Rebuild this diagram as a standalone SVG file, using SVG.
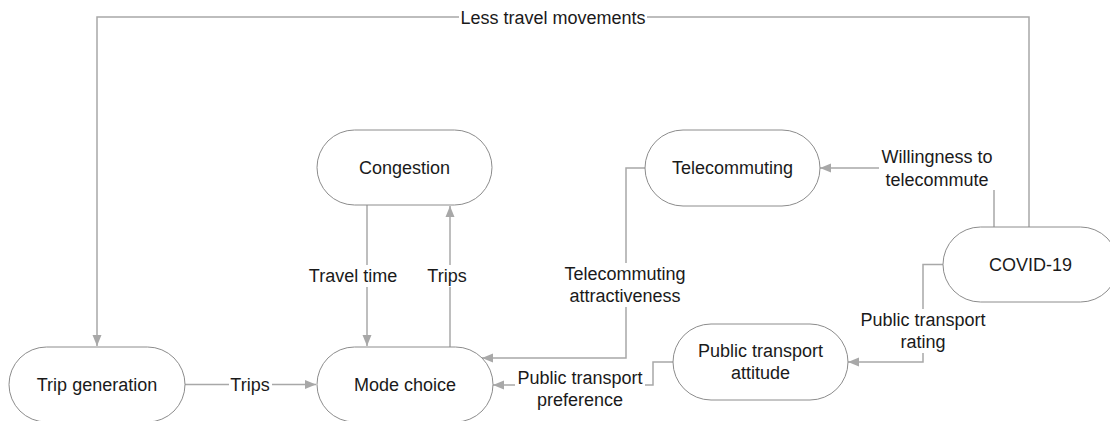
<svg xmlns="http://www.w3.org/2000/svg" width="1110" height="421" viewBox="0 0 1110 421">
  <defs>
    <style>
      .node rect { fill: #ffffff; stroke: #8c8c8c; stroke-width: 1; }
      .node text, .lbl { font-family: "Liberation Sans", Arial, sans-serif; font-size: 18px; fill: #1a1a1a; text-anchor: middle; }
      .edge { fill: none; stroke: #a8a8a8; stroke-width: 1.5; marker-end: url(#arrow); }
      .bg { fill: #ffffff; stroke: none; }
    </style>
    <marker id="arrow" markerUnits="userSpaceOnUse" markerWidth="12" markerHeight="12" viewBox="0 0 12 12" refX="11" refY="6" orient="auto">
      <path d="M0,1.5 L11,6 L0,10.5 Z" fill="#a8a8a8"/>
    </marker>
  </defs>

  <rect width="1110" height="421" fill="#ffffff"/>

  <g id="connectors">
    <!-- COVID-19 to Trip generation -->
    <path class="edge" d="M1029,227 V17 H97 V346"/>
    <rect class="bg" x="459" y="7" width="188" height="22"/>
    <text class="lbl" x="553" y="24">Less travel movements</text>

    <!-- Trip generation to Mode choice -->
    <path class="edge" d="M185,384.5 H316"/>
    <rect class="bg" x="229" y="374" width="43" height="22"/>
    <text class="lbl" x="250" y="391">Trips</text>

    <!-- Congestion to Mode choice -->
    <path class="edge" d="M367,205 V346"/>
    <rect class="bg" x="307" y="265" width="92" height="22"/>
    <text class="lbl" x="353" y="282">Travel time</text>

    <!-- Mode choice to Congestion -->
    <path class="edge" d="M450,347 V206"/>
    <rect class="bg" x="426" y="265" width="43" height="22"/>
    <text class="lbl" x="447" y="282">Trips</text>

    <!-- Telecommuting to Mode choice -->
    <path class="edge" d="M645,168 H626 V358 H482"/>
    <rect class="bg" x="561" y="263" width="128" height="44"/>
    <text class="lbl" x="625" y="280">Telecommuting</text>
    <text class="lbl" x="625" y="302">attractiveness</text>

    <!-- COVID-19 to Telecommuting -->
    <path class="edge" d="M994,227 V168 H820"/>
    <rect class="bg" x="879" y="146" width="116" height="44"/>
    <text class="lbl" x="937" y="163">Willingness to</text>
    <text class="lbl" x="937" y="186">telecommute</text>

    <!-- COVID-19 to Public transport attitude -->
    <path class="edge" d="M943,264.5 H923 V362 H848"/>
    <rect class="bg" x="859" y="309" width="128" height="44"/>
    <text class="lbl" x="923" y="326">Public transport</text>
    <text class="lbl" x="923" y="348">rating</text>

    <!-- Public transport attitude to Mode choice -->
    <path class="edge" d="M673,362 H653 V385 H493"/>
    <rect class="bg" x="515" y="367" width="130" height="44"/>
    <text class="lbl" x="580" y="384">Public transport</text>
    <text class="lbl" x="580" y="406">preference</text>
  </g>

  <g id="trip-generation" class="node">
    <rect x="9" y="347" width="176" height="75" rx="37.5"/>
    <text x="97" y="391">Trip generation</text>
  </g>

  <g id="mode-choice" class="node">
    <rect x="317" y="347" width="176" height="75" rx="37.5"/>
    <text x="405" y="391">Mode choice</text>
  </g>

  <g id="congestion" class="node">
    <rect x="317" y="130" width="175" height="75" rx="37.5"/>
    <text x="404.5" y="174">Congestion</text>
  </g>

  <g id="telecommuting" class="node">
    <rect x="645" y="130" width="175" height="76" rx="38"/>
    <text x="732.5" y="174">Telecommuting</text>
  </g>

  <g id="covid-19" class="node">
    <rect x="943" y="227" width="175" height="75" rx="37.5"/>
    <text x="1030.5" y="271">COVID-19</text>
  </g>

  <g id="public-transport-attitude" class="node">
    <rect x="673" y="324" width="175" height="76" rx="38"/>
    <text x="760.5" y="357">Public transport</text>
    <text x="760.5" y="379">attitude</text>
  </g>
</svg>
